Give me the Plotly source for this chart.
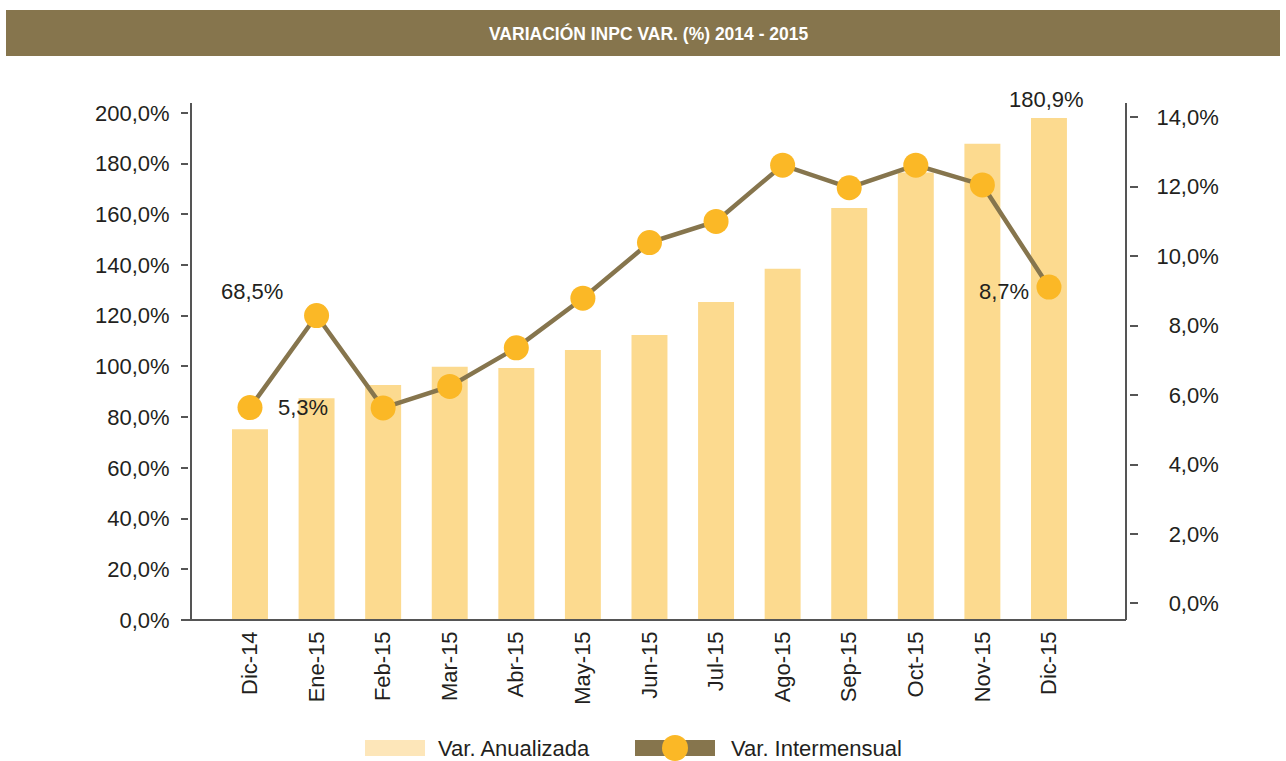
import plotly.graph_objects as go

categories = ["Dic-14", "Ene-15", "Feb-15", "Mar-15", "Abr-15", "May-15", "Jun-15",
              "Jul-15", "Ago-15", "Sep-15", "Oct-15", "Nov-15", "Dic-15"]
var_anualizada = [75.2, 87.5, 92.7, 99.9, 99.4, 106.5, 112.4, 125.4, 138.5, 162.5, 176.5, 187.8, 198.0]
var_intermensual = [5.64, 8.29, 5.63, 6.25, 7.36, 8.79, 10.39, 11.0, 12.62, 11.97, 12.62, 12.05, 9.11]
left_ticks = [0, 20, 40, 60, 80, 100, 120, 140, 160, 180, 200]
right_ticks = [0, 2, 4, 6, 8, 10, 12, 14]
series_names = ["Var. Anualizada", "Var. Intermensual"]
title_text = "VARIACIÓN INPC VAR. (%) 2014 - 2015"
label_texts = ["68,5%", "5,3%", "180,9%", "8,7%"]

BAR = "#FCDA8F"
BAR_LEG = "#FDE6B9"
LINE = "#86754D"
MARK = "#FBB826"
TXT = "#231F20"
AX = "#555555"
FONT = "Liberation Sans, Arial, sans-serif"

W, H = 1286, 761
L, R, T, B = 188, 1129, 103, 620


def px_x(p):
    return (p - L) / (R - L)


def px_y(p):
    return (B - p) / (B - T)


def fmt(v):
    return f"{v:.1f}".replace(".", ",") + "%"


fig = go.Figure()
fig.add_trace(go.Bar(
    x=categories, y=var_anualizada, name=series_names[0],
    marker=dict(color=BAR, line=dict(width=0)), width=0.54,
    yaxis="y", showlegend=False,
))
fig.add_trace(go.Scatter(
    x=categories, y=var_intermensual, name=series_names[1], mode="lines+markers",
    line=dict(color=LINE, width=4.5),
    marker=dict(color=MARK, size=25, line=dict(width=0)),
    yaxis="y2", showlegend=False, cliponaxis=False,
))

x_dom = [px_x(191), px_x(1126)]

fig.update_layout(
    width=W, height=H, autosize=False,
    margin=dict(l=L, r=W - R, t=T, b=H - B, pad=0),
    paper_bgcolor="white", plot_bgcolor="white",
    font=dict(family=FONT, size=22, color=TXT),
    showlegend=False,
    xaxis=dict(
        type="category", domain=x_dom, range=[-0.886, 13.157],
        showline=False, showgrid=False, zeroline=False, ticks="",
        tickangle=-90, tickfont=dict(size=22, color=TXT), ticklabelstandoff=6,
        anchor="y",
    ),
    yaxis=dict(
        range=[0, 203.9], anchor="free", position=0,
        showline=False, showgrid=False, zeroline=False,
        ticks="outside", ticklen=7, tickwidth=1.5, tickcolor=AX,
        tickvals=left_ticks, ticktext=[fmt(v) for v in left_ticks],
        tickfont=dict(size=22, color=TXT), ticklabelstandoff=7,
    ),
    yaxis2=dict(
        range=[-0.476, 14.41], overlaying="y", side="right", anchor="free", position=1,
        showline=False, showgrid=False, zeroline=False,
        ticks="outside", ticklen=8, tickwidth=1.5, tickcolor=AX,
        tickvals=right_ticks,
        ticktext=[("\u2007" if v < 10 else "") + fmt(v) for v in right_ticks],
        tickfont=dict(size=22, color=TXT), ticklabelstandoff=14,
    ),
)

shapes = [
    # title banner
    dict(type="rect", xref="paper", yref="paper", x0=px_x(6), x1=px_x(1280),
         y0=px_y(56), y1=px_y(10), fillcolor=LINE, line=dict(width=0), layer="below"),
    # left axis line
    dict(type="line", xref="paper", yref="paper", x0=x_dom[0], x1=x_dom[0],
         y0=0, y1=1, line=dict(color=AX, width=2)),
    # right axis line
    dict(type="line", xref="paper", yref="paper", x0=x_dom[1], x1=x_dom[1],
         y0=0, y1=1, line=dict(color=AX, width=2)),
    # bottom axis line
    dict(type="line", xref="paper", yref="paper", x0=px_x(183), x1=x_dom[1],
         y0=0, y1=0, line=dict(color=AX, width=2)),
    # legend swatches
    dict(type="rect", xref="paper", yref="paper", x0=px_x(365), x1=px_x(425),
         y0=px_y(756), y1=px_y(740), fillcolor=BAR_LEG, line=dict(width=0)),
    dict(type="rect", xref="paper", yref="paper", x0=px_x(635), x1=px_x(715),
         y0=px_y(756), y1=px_y(740), fillcolor=LINE, line=dict(width=0)),
    dict(type="circle", xref="paper", yref="paper", x0=px_x(662), x1=px_x(688),
         y0=px_y(761), y1=px_y(735), fillcolor=MARK, line=dict(width=0)),
]

annotations = [
    dict(text=f"<b>{title_text}</b>", xref="paper", yref="paper", x=px_x(649), y=px_y(33),
         showarrow=False, font=dict(family="Liberation Sans, Arial, sans-serif",
                                    size=17.5, color="white"),
         xanchor="center", yanchor="middle"),
    dict(text=series_names[0], xref="paper", yref="paper", x=px_x(436), y=px_y(748),
         showarrow=False, xanchor="left", yanchor="middle", font=dict(size=22, color=TXT)),
    dict(text=series_names[1], xref="paper", yref="paper", x=px_x(729), y=px_y(748),
         showarrow=False, xanchor="left", yanchor="middle", font=dict(size=22, color=TXT)),
    # data labels
    dict(text=label_texts[0], x=categories[0], y=var_intermensual[0], xref="x", yref="y2",
         showarrow=False, xshift=2, yshift=116, font=dict(size=22, color=TXT)),
    dict(text=label_texts[1], x=categories[0], y=var_intermensual[0], xref="x", yref="y2",
         showarrow=False, xshift=53, yshift=0, font=dict(size=22, color=TXT)),
    dict(text=label_texts[2], x=categories[12], y=var_anualizada[12], xref="x", yref="y",
         showarrow=False, xshift=-2, yshift=18, font=dict(size=22, color=TXT)),
    dict(text=label_texts[3], x=categories[12], y=var_intermensual[12], xref="x", yref="y2",
         showarrow=False, xshift=-45, yshift=-4, font=dict(size=22, color=TXT)),
]

fig.update_layout(shapes=shapes, annotations=annotations)
fig.write_html(
    "out.html",
    config={"displayModeBar": False},
    post_script="document.body.style.margin='0px';document.body.style.overflow='hidden';",
)
